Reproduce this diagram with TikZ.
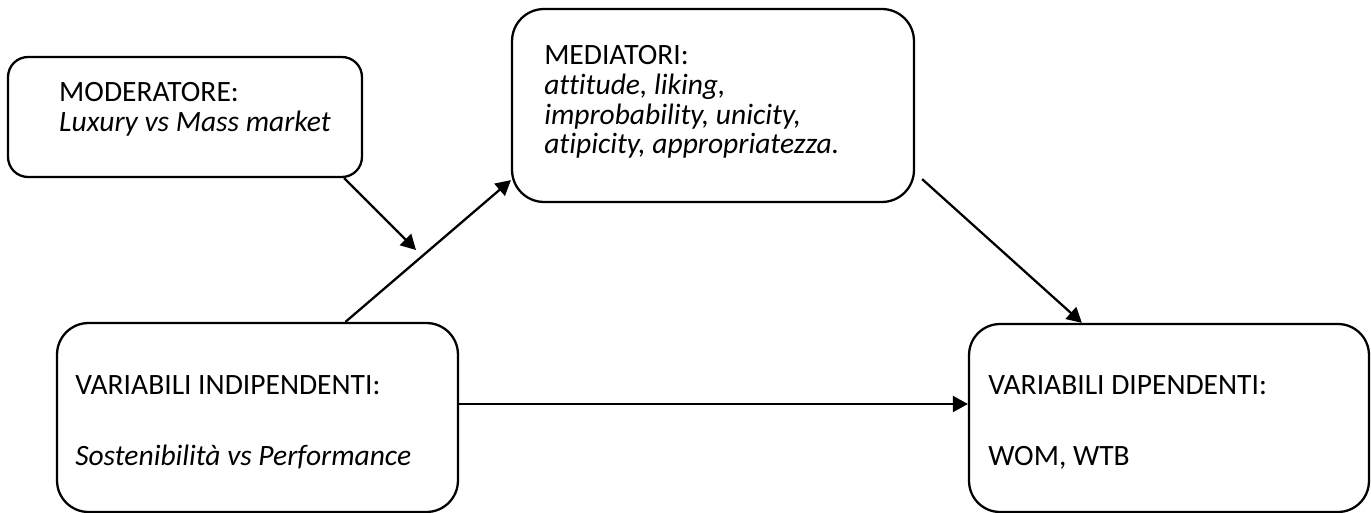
\documentclass[tikz,border=0pt]{standalone}
\usepackage{fontspec}
\setmainfont{Carlito}[Ligatures=NoCommon]
\usetikzlibrary{arrows.meta,calc,positioning}

\begin{document}
\begin{tikzpicture}[x=0.02cm, y=-0.02cm,
		box/.style={draw, line width=1.3pt, inner sep=0pt},
		txt/.style={anchor=north west, inner sep=0pt, align=left, font=\fontsize{16.8}{17}\selectfont},
		arr/.style={line width=1.3pt, -{Triangle[length=8.5pt,width=9pt]}}]
		\useasboundingbox (0,0) rectangle (1371,513);

		% boxes
		\node[box, rounded corners=0.4cm, minimum width=7.08cm, minimum height=2.4cm] (mod) at (185,117) {};
		\node[box, rounded corners=0.64cm, minimum width=8.04cm, minimum height=3.86cm] (med) at (713,105.5) {};
		\node[box, rounded corners=0.63cm, minimum width=8.02cm, minimum height=3.78cm] (vi) at (257.5,417.5) {};
		\node[box, rounded corners=0.62cm, minimum width=8cm, minimum height=3.76cm] (vd) at (1169,418) {};

		\node[txt] (modtxt) at ($(mod.north west)+(52,26)$) {MODERATORE:\\\textit{Luxury vs Mass market}};
		\node[txt] (medtxt) at ($(med.north west)+(33,37)$) {MEDIATORI:\\\textit{attitude, liking,}\\\textit{improbability, unicity,}\\\textit{atipicity, appropriatezza.}};
		\node[txt] (vitxt) at ($(vi.north west)+(19,53)$) {VARIABILI INDIPENDENTI:\\[23.5pt]\textit{Sostenibilità vs Performance}};
		\node[txt] (vdtxt) at ($(vd.north west)+(20,52)$) {VARIABILI DIPENDENTI:\\[23.5pt]WOM, WTB};

		% arrows
		\coordinate (modtip) at (416,250);
		\draw[arr] ($(mod.south east)+(-19,0)$) -- (modtip);
		\draw[arr] ($(vi.north)+(88,0)$) -- ($(med.south west)+(0,-23)$);
		\draw[arr] ($(med.south east)+(7,-24)$) -- ($(vd.north west)+(114,0)$);
		\coordinate (viout) at ($(vi.east)+(0,-13.5)$);
		\draw[arr] (viout) -- (viout -| vd.west);
	\end{tikzpicture}
\end{document}
